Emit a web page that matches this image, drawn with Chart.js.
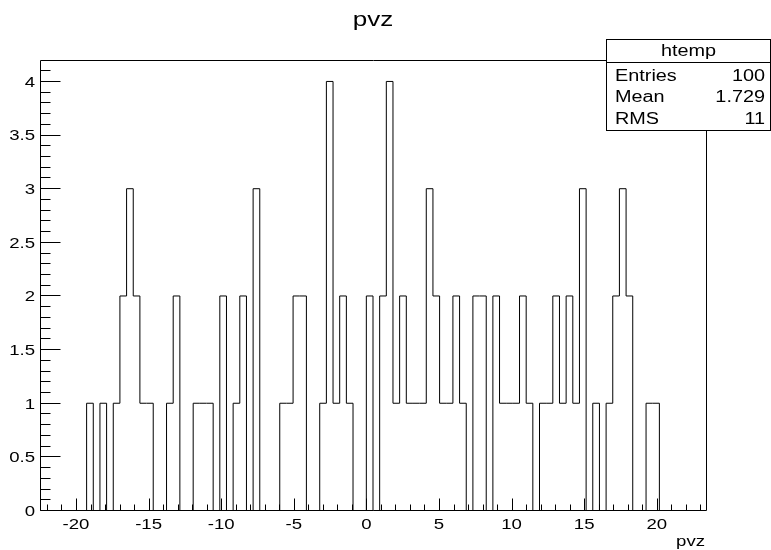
<!DOCTYPE html>
<html>
<head>
<meta charset="utf-8">
<script src="https://cdn.jsdelivr.net/npm/chart.js@4.4.1/dist/chart.umd.min.js"></script>
<style>
  html, body { margin: 0; padding: 0; background: #ffffff; }
  canvas { display: block; }
</style>
</head>
<body>
<canvas id="c" width="771" height="550"></canvas>
<script>
// ---------------- data ----------------
const histTitle = 'pvz';
const xAxisTitle = 'pvz';
const histName = 'htemp';
const statNames = ['Entries', 'Mean', 'RMS'];
const statValues = ['100', '1.729', '11'];

const xMin = -22.48;
const xMax = 23.39;
const nBins = 100;
const yMin = 0;
const yMax = 4.2;

// bin contents, 100 bins from xMin to xMax
const binCounts = [
  0, 0, 0, 0, 0, 0, 0, 1, 0, 1,
  0, 1, 2, 3, 2, 1, 1, 0, 0, 1,
  2, 0, 0, 1, 1, 1, 0, 2, 0, 1,
  2, 0, 3, 0, 0, 0, 1, 1, 2, 2,
  0, 0, 1, 4, 1, 2, 1, 0, 0, 2,
  0, 2, 4, 1, 2, 1, 1, 1, 3, 2,
  1, 1, 2, 1, 0, 2, 2, 0, 2, 1,
  1, 1, 2, 1, 0, 1, 1, 2, 1, 2,
  1, 3, 0, 1, 0, 1, 2, 3, 2, 0,
  0, 1, 1, 0, 0, 0, 0, 0, 0, 0
];

const xTickLabels = [-20, -15, -10, -5, 0, 5, 10, 15, 20];
const yTickLabels = [0, 0.5, 1, 1.5, 2, 2.5, 3, 3.5, 4];

// ---------------- build step points ----------------
const binWidth = (xMax - xMin) / nBins;
const stepPoints = binCounts.map((c, k) => ({ x: xMin + k * binWidth, y: c }));
stepPoints.push({ x: xMax, y: binCounts[nBins - 1] });

// ---------------- drawing helpers ----------------
const FONT = '"Liberation Sans", Arial, Helvetica, sans-serif';
const SX = 1.24; // horizontal glyph stretch seen in the reference

function drawText(ctx, s, x, y, align, size) {
  ctx.save();
  ctx.font = size + 'px ' + FONT;
  ctx.fillStyle = '#000';
  ctx.textAlign = align;
  ctx.textBaseline = 'alphabetic';
  ctx.translate(x, y);
  ctx.scale(SX, 1);
  ctx.fillText(s, 0, 0);
  ctx.restore();
}

const rootStyle = {
  id: 'rootStyle',
  afterDraw(chart) {
    const ctx = chart.ctx;
    const a = chart.chartArea;
    const xs = chart.scales.x;
    const ys = chart.scales.y;
    const L = Math.floor(a.left) + 0.5;
    const R = Math.floor(a.right) + 0.5;
    const T = Math.floor(a.top) + 0.5;
    const B = Math.floor(a.bottom) + 0.5;

    ctx.save();
    ctx.strokeStyle = '#000';
    ctx.lineWidth = 1;

    // frame
    ctx.beginPath();
    ctx.rect(L, T, R - L, B - T);
    ctx.stroke();

    // tick marks (pointing into the frame)
    ctx.beginPath();
    for (let v = Math.ceil(xMin); v <= Math.floor(xMax); v++) {
      const px = Math.round(xs.getPixelForValue(v)) + 0.5;
      const len = (v % 5 === 0) ? 12 : 6;
      ctx.moveTo(px, B);
      ctx.lineTo(px, B - len);
    }
    for (let i = 0; i * 0.1 < yMax - 1e-9; i++) {
      const py = Math.floor(ys.getPixelForValue(i / 10)) + 0.5;
      const len = (i % 5 === 0) ? 20 : 10;
      ctx.moveTo(L, py);
      ctx.lineTo(L + len, py);
    }
    ctx.stroke();
    ctx.restore();

    // tick labels, taken from the library's ticks
    xs.ticks.forEach(t => {
      drawText(ctx, String(t.label), xs.getPixelForValue(t.value), 528.5, 'center', 15);
    });
    ys.ticks.forEach(t => {
      drawText(ctx, String(t.label), L - 5.5, ys.getPixelForValue(t.value) + 5.3, 'right', 15);
    });

    // title and axis title
    drawText(ctx, histTitle, (a.left + a.right) / 2, 26, 'center', 21);
    drawText(ctx, xAxisTitle, a.right - 1, 545.5, 'right', 15);

    // statistics box
    const bx0 = 606.5, bx1 = 770.5, by0 = 39.5, by1 = 130.5, bsep = 62.5;
    ctx.save();
    ctx.fillStyle = '#fff';
    ctx.fillRect(bx0, by0, bx1 - bx0, by1 - by0);
    ctx.strokeStyle = '#000';
    ctx.lineWidth = 1;
    ctx.strokeRect(bx0, by0, bx1 - bx0, by1 - by0);
    ctx.beginPath();
    ctx.moveTo(bx0, bsep);
    ctx.lineTo(bx1, bsep);
    ctx.stroke();
    ctx.restore();
    drawText(ctx, histName, (bx0 + bx1) / 2, 56, 'center', 16);
    const rowBase = [80.5, 102.3, 124];
    statNames.forEach((n, i) => {
      drawText(ctx, n, 615, rowBase[i], 'left', 16);
      drawText(ctx, statValues[i], 765, rowBase[i], 'right', 16);
    });
  }
};

new Chart(document.getElementById('c'), {
  type: 'line',
  data: {
    datasets: [{
      label: histName,
      data: stepPoints,
      stepped: 'before',
      borderColor: '#000',
      borderWidth: 1,
      pointRadius: 0,
      fill: false,
      tension: 0
    }]
  },
  options: {
    responsive: false,
    animation: false,
    devicePixelRatio: 1,
    layout: { padding: { left: 0, right: 65, top: 60, bottom: 0 } },
    plugins: {
      legend: { display: false },
      tooltip: { enabled: false },
      title: { display: false }
    },
    scales: {
      x: {
        type: 'linear',
        min: xMin,
        max: xMax,
        grid: { display: false, drawTicks: false },
        border: { display: false },
        ticks: { display: false, callback: v => String(v) },
        afterBuildTicks: s => { s.ticks = xTickLabels.map(v => ({ value: v })); },
        afterFit: s => { s.height = 39.5; }
      },
      y: {
        type: 'linear',
        min: yMin,
        max: yMax,
        grid: { display: false, drawTicks: false },
        border: { display: false },
        ticks: { display: false, callback: v => String(v) },
        afterBuildTicks: s => { s.ticks = yTickLabels.map(v => ({ value: v })); },
        afterFit: s => { s.width = 40; }
      }
    }
  },
  plugins: [rootStyle]
});
</script>
</body>
</html>
